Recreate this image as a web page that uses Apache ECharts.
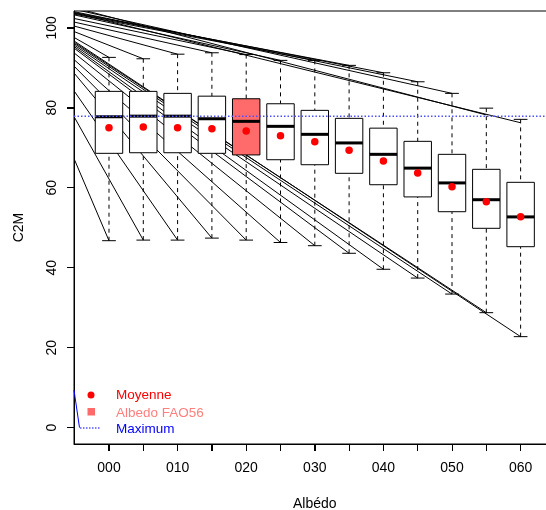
<!DOCTYPE html>
<html><head><meta charset="utf-8">
<script src="https://cdn.jsdelivr.net/npm/echarts@6/dist/echarts.min.js"></script>
<style>html,body{margin:0;padding:0;background:#fff}#c{width:546px;height:510px}</style>
</head><body><div id="c"></div>
<script>
// ---- data ----
const categories = ['000','005','010','015','020','025','030','035','040','045','050','055','060'];
const whiskerLow  = [46.75,46.9,46.9,47.4,46.9,46.3,45.5,43.6,39.6,37.4,33.4,28.75,22.75];
const q1          = [68.6,68.75,68.75,68.6,68.2,67.0,65.75,63.6,60.75,57.7,54.0,49.85,45.25];
const median      = [77.75,77.9,77.9,77.25,76.6,75.35,73.35,71.2,68.35,64.9,61.2,57.0,52.7];
const q3          = [84.1,84.1,83.6,82.9,82.25,81.0,79.35,77.35,74.9,71.6,68.35,64.6,61.35];
const whiskerHigh = [92.6,92.25,93.4,93.75,93.3,91.85,91.85,90.6,88.75,86.5,83.6,79.9,77.1];
const means       = [75.0,75.2,75.0,74.75,74.2,73.0,71.5,69.35,66.7,63.7,60.25,56.5,52.75];
const fao56Category = '020';
const maximumValue = 77.9;
// stray lines starting at x = 0 and ending at each box's whiskers
const fanUpperStart = [97.5,99.0,100.4,101.4,102.3,103.2,103.4,103.6,103.8,104.0,104.6,105.0,103.7];
const fanUpperEnd   = [92.6,92.25,93.4,93.75,93.3,91.85,91.85,90.6,88.75,86.5,83.6,78.2,76.25];
const fanLowerStart = [66.9,77.5,84.0,88.5,90.25,91.9,93.6,94.8,95.2,95.6,96.0,96.3,96.6];
const blueStroke = [[-0.02,9.4],[0.14,0]];
const yTickValues = [0,20,40,60,80,100];
const xLabelCategories = ['000','010','020','030','040','050','060'];

// ---- build ----
const X_MIN = -0.02, X_MAX = 14.02, Y_MIN = -4.1, Y_MAX = 104.2;
const pos = categories.map((c,i)=>i+1);
const boxData = categories.map((c,i)=>[pos[i], whiskerLow[i], q1[i], median[i], q3[i], whiskerHigh[i], c===fao56Category?1:0]);
const fanData = [];
categories.forEach((c,i)=>{
  fanData.push([pos[i], fanUpperStart[i], fanUpperEnd[i]]);
  fanData.push([pos[i], fanLowerStart[i], whiskerLow[i]]);
});
const FONT = 'Liberation Sans, Arial, sans-serif';
const BOXW = 0.8, CAPW = 0.4, TICK = 7;
const chart = echarts.init(document.getElementById('c'), null, {renderer:'canvas'});
chart.setOption({
  animation:false,
  grid:{left:74,right:-9.6,top:11,bottom:66,show:true,borderColor:'#000',borderWidth:1,outerBoundsMode:'none'},
  xAxis:[
    {type:'value',min:X_MIN,max:X_MAX,position:'bottom',
     name:'Albédo',nameLocation:'middle',nameGap:53,nameTextStyle:{fontFamily:FONT,fontSize:14,color:'#000'},
     axisLine:{show:true,onZero:false,lineStyle:{color:'#000'}},splitLine:{show:false},
     axisTick:{show:true,length:TICK,lineStyle:{color:'#000'},customValues:pos},
     axisLabel:{show:false}},
    {type:'value',min:X_MIN,max:X_MAX,position:'bottom',offset:0,
     axisLine:{show:false,onZero:false},splitLine:{show:false},axisTick:{show:false},
     axisLabel:{fontFamily:FONT,fontSize:14,color:'#000',margin:17,
       customValues:xLabelCategories.map(c=>categories.indexOf(c)+1),
       formatter:v=>categories[Math.round(v)-1]}}
  ],
  yAxis:[
    {type:'value',min:Y_MIN,max:Y_MAX,position:'left',
     name:'C2M',nameLocation:'middle',nameGap:48,nameRotate:90,nameTextStyle:{fontFamily:FONT,fontSize:14,color:'#000'},
     axisLine:{show:true,onZero:false,lineStyle:{color:'#000'}},splitLine:{show:false},
     axisTick:{show:true,length:TICK,lineStyle:{color:'#000'},customValues:yTickValues},
     axisLabel:{show:false}},
    {type:'value',min:Y_MIN,max:Y_MAX,position:'left',offset:0,
     axisLine:{show:false,onZero:false},splitLine:{show:false},axisTick:{show:false},
     axisLabel:{fontFamily:FONT,fontSize:14,color:'#000',rotate:90,margin:15,customValues:yTickValues}}
  ],
  series:[
    {type:'custom',name:'fan',clip:true,silent:true,data:fanData,encode:{x:0,y:1},
     renderItem:(p,api)=>{
       const k=api.value(0), s=api.value(1), e=api.value(2);
       const a=api.coord([0,s]), b=api.coord([k,e]);
       return {type:'line',shape:{x1:a[0],y1:a[1],x2:b[0],y2:b[1]},style:{stroke:'#000',lineWidth:1}};
     }},
    {type:'custom',name:'boxes',clip:true,data:boxData,encode:{x:0,y:[1,2,3,4,5]},
     renderItem:(p,api)=>{
       const x=api.value(0), lo=api.value(1), a=api.value(2), m=api.value(3), b=api.value(4), hi=api.value(5), f=api.value(6);
       const L=api.coord([x-BOXW/2,b]), R=api.coord([x+BOXW/2,a]);
       const C=api.coord([x,hi]), Cl=api.coord([x,lo]);
       const cw=api.size([CAPW,0])[0]/2;
       const top=api.coord([x,b])[1], bot=api.coord([x,a])[1];
       const my=api.coord([x,m])[1];
       const ch=[
         {type:'line',shape:{x1:C[0],y1:C[1],x2:C[0],y2:top},style:{stroke:'#000',lineWidth:1,lineDash:[4,4]}},
         {type:'line',shape:{x1:C[0],y1:Cl[1],x2:C[0],y2:bot},style:{stroke:'#000',lineWidth:1,lineDash:[4,4]}},
         {type:'line',shape:{x1:C[0]-cw,y1:C[1],x2:C[0]+cw,y2:C[1]},style:{stroke:'#000',lineWidth:1}},
         {type:'line',shape:{x1:C[0]-cw,y1:Cl[1],x2:C[0]+cw,y2:Cl[1]},style:{stroke:'#000',lineWidth:1}},
         {type:'rect',shape:{x:L[0],y:top,width:R[0]-L[0],height:bot-top},style:{fill:f?'#ff6b6b':'#fff',stroke:'#000',lineWidth:1}},
         {type:'line',shape:{x1:L[0],y1:my,x2:R[0],y2:my},style:{stroke:'#000',lineWidth:3}}
       ];
       return {type:'group',children:ch};
     }},
    {type:'line',name:'Maximum',data:[[X_MIN,maximumValue],[X_MAX,maximumValue]],symbol:'none',
     lineStyle:{color:'#5050ff',width:1.5,type:[1.5,2]},silent:true},
    {type:'line',name:'blue',data:blueStroke,symbol:'none',lineStyle:{color:'#0000ff',width:1},silent:true},
    {type:'scatter',name:'Moyenne',data:pos.map((x,i)=>[x,means[i]]),symbol:'circle',symbolSize:7.5,
     itemStyle:{color:'#ff0000',opacity:1},silent:true}
  ]
});
// legend and tick marks (tick positions from the chart's own scales)
const graphics = [
  {type:'circle',shape:{cx:91,cy:395,r:3.5},style:{fill:'#ff0000'}},
  {type:'rect',shape:{x:87.5,y:408,width:7.5,height:7.5},style:{fill:'#ff6b6b'}},
  {type:'line',shape:{x1:80,y1:428,x2:101,y2:428},style:{stroke:'#0000ff',lineWidth:1,lineDash:[1.5,1.5]}},
  {type:'text',x:116,y:395,style:{text:'Moyenne',fill:'#ff0000',font:'13.5px '+FONT,textVerticalAlign:'middle'}},
  {type:'text',x:116,y:413,style:{text:'Albedo FAO56',fill:'#ff7f7f',font:'13.5px '+FONT,textVerticalAlign:'middle'}},
  {type:'text',x:116,y:429.5,style:{text:'Maximum',fill:'#0000ff',font:'13.5px '+FONT,textVerticalAlign:'middle'}}
];
try {
  pos.forEach(v=>{
    const c = chart.convertToPixel({xAxisIndex:0,yAxisIndex:0},[v,Y_MIN]);
    const x = Math.floor(c[0])+0.5;
    graphics.push({type:'line',shape:{x1:x,y1:c[1],x2:x,y2:c[1]+TICK},style:{stroke:'#000',lineWidth:1}});
  });
  yTickValues.forEach(v=>{
    const c = chart.convertToPixel({xAxisIndex:0,yAxisIndex:0},[X_MIN,v]);
    const y = Math.floor(c[1])+0.5;
    graphics.push({type:'line',shape:{x1:c[0],y1:y,x2:c[0]-TICK,y2:y},style:{stroke:'#000',lineWidth:1}});
  });
} catch(e) {}
chart.setOption({graphic:graphics});
</script></body></html>
